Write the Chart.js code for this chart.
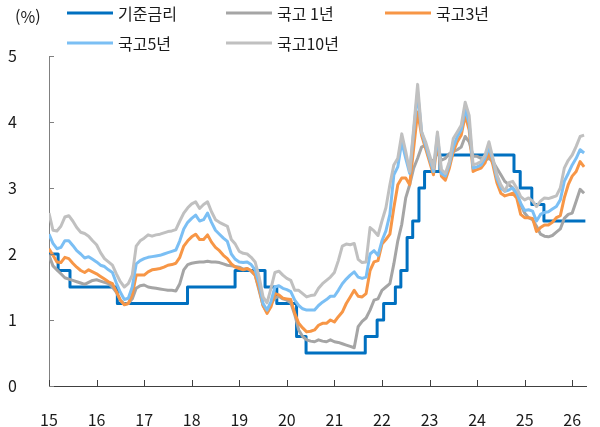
<!DOCTYPE html>
<html lang="ko">
<head>
<meta charset="utf-8">
<title>기준금리와 국고채 금리</title>
<script src="https://cdn.jsdelivr.net/npm/chart.js@4.4.1/dist/chart.umd.min.js"></script>
<style>
    html, body { margin: 0; padding: 0; background: #fff; }
    #wrap { position: relative; width: 600px; height: 427px; }
</style>
</head>
<body>
<div id="wrap"><canvas id="rateChart"></canvas></div>
<script>
// Base rate: decision dates and new level
const baseDates = ['2015-01-01', '2015-03-12', '2015-06-11', '2016-06-09', '2017-11-30', '2018-11-30',
    '2019-07-18', '2019-10-16', '2020-03-16', '2020-05-28', '2021-08-26', '2021-11-25',
    '2022-01-14', '2022-04-14', '2022-05-26', '2022-07-13', '2022-08-25', '2022-10-12',
    '2022-11-24', '2023-03-22', '2024-10-11', '2024-11-28', '2025-02-25', '2025-05-29', '2026-04-12'];
const baseRates = [2.00, 1.75, 1.50, 1.25, 1.50, 1.75,
    1.50, 1.25, 0.75, 0.50, 0.75, 1.00,
    1.25, 1.50, 1.75, 2.25, 2.50, 3.00,
    3.25, 3.50, 3.25, 3.00, 2.75, 2.50, 2.50];

// Treasury yields, monthly from Jan 2015
const firstMonth = '2015-01';
const ktb1y = [
    1.98, 1.82, 1.76, 1.70, 1.64, 1.62, 1.60, 1.58, 1.56, 1.54, 1.57, 1.60,
    1.61, 1.59, 1.57, 1.55, 1.50, 1.42, 1.30, 1.24, 1.25, 1.32, 1.48, 1.52,
    1.53, 1.50, 1.49, 1.48, 1.47, 1.46, 1.45, 1.45, 1.44, 1.55, 1.76, 1.84,
    1.86, 1.87, 1.88, 1.88, 1.89, 1.88, 1.88, 1.87, 1.85, 1.83, 1.82, 1.81,
    1.80, 1.77, 1.78, 1.74, 1.68, 1.45, 1.22, 1.12, 1.25, 1.33, 1.36, 1.32,
    1.30, 1.26, 1.08, 0.85, 0.75, 0.70, 0.68, 0.67, 0.70, 0.68, 0.67, 0.70,
    0.67, 0.66, 0.64, 0.62, 0.60, 0.58, 0.90, 0.98, 1.03, 1.15, 1.30, 1.32,
    1.45, 1.50, 1.55, 1.85, 2.20, 2.45, 2.85, 3.05, 3.30, 3.45, 3.62, 3.65,
    3.45, 3.40, 3.55, 3.42, 3.45, 3.52, 3.55, 3.58, 3.62, 3.78, 3.70, 3.48,
    3.48, 3.45, 3.42, 3.45, 3.40, 3.30, 3.20, 3.10, 3.05, 3.00, 2.90, 2.75,
    2.62, 2.55, 2.52, 2.42, 2.30, 2.27, 2.26, 2.28, 2.33, 2.38, 2.54, 2.60,
    2.62, 2.80, 2.98, 2.92
];
const ktb3y = [
    2.08, 1.98, 1.88, 1.87, 1.95, 1.93, 1.86, 1.80, 1.75, 1.72, 1.76, 1.73,
    1.70, 1.66, 1.62, 1.58, 1.55, 1.43, 1.30, 1.23, 1.25, 1.38, 1.68, 1.68,
    1.68, 1.73, 1.76, 1.77, 1.78, 1.80, 1.83, 1.84, 1.86, 1.95, 2.12, 2.20,
    2.26, 2.30, 2.22, 2.22, 2.29, 2.18, 2.10, 2.05, 1.98, 1.93, 1.85, 1.80,
    1.78, 1.76, 1.78, 1.75, 1.68, 1.48, 1.22, 1.10, 1.20, 1.40, 1.38, 1.33,
    1.32, 1.31, 1.10, 0.95, 0.88, 0.82, 0.83, 0.85, 0.92, 0.95, 0.95, 1.00,
    0.97, 1.05, 1.12, 1.25, 1.35, 1.45, 1.36, 1.35, 1.40, 1.75, 1.88, 1.90,
    2.15, 2.22, 2.30, 2.70, 3.05, 3.15, 3.15, 3.05, 3.60, 4.15, 3.80, 3.60,
    3.40, 3.20, 3.72, 3.18, 3.12, 3.30, 3.55, 3.70, 3.80, 4.10, 3.88, 3.25,
    3.28, 3.30, 3.38, 3.55, 3.35, 3.08, 2.92, 2.88, 2.90, 2.92, 2.85, 2.60,
    2.55, 2.55, 2.54, 2.34, 2.40, 2.44, 2.44, 2.48, 2.55, 2.58, 2.85, 3.05,
    3.18, 3.25, 3.40, 3.32
];
const ktb5y = [
    2.30, 2.16, 2.08, 2.10, 2.20, 2.20, 2.13, 2.05, 2.00, 1.94, 1.96, 1.92,
    1.88, 1.83, 1.81, 1.76, 1.72, 1.56, 1.42, 1.31, 1.33, 1.50, 1.85, 1.90,
    1.93, 1.95, 1.96, 1.97, 1.98, 2.00, 2.02, 2.04, 2.06, 2.20, 2.38, 2.48,
    2.54, 2.59, 2.50, 2.52, 2.62, 2.48, 2.36, 2.30, 2.24, 2.19, 2.00, 1.92,
    1.88, 1.87, 1.88, 1.84, 1.76, 1.56, 1.25, 1.15, 1.28, 1.50, 1.52, 1.48,
    1.46, 1.43, 1.30, 1.22, 1.17, 1.15, 1.15, 1.15, 1.22, 1.27, 1.31, 1.36,
    1.36, 1.45, 1.55, 1.62, 1.68, 1.73, 1.65, 1.63, 1.65, 2.00, 2.05, 1.98,
    2.20, 2.35, 2.60, 3.20, 3.32, 3.70, 3.45, 3.22, 3.85, 4.45, 3.85, 3.65,
    3.45, 3.25, 3.80, 3.22, 3.18, 3.36, 3.62, 3.78, 3.88, 4.20, 3.98, 3.30,
    3.32, 3.35, 3.45, 3.62, 3.42, 3.15, 3.00, 2.95, 2.97, 3.00, 2.92, 2.77,
    2.66, 2.67, 2.65, 2.50, 2.60, 2.63, 2.64, 2.68, 2.72, 2.82, 3.10, 3.22,
    3.35, 3.45, 3.58, 3.53
];
const ktb10y = [
    2.62, 2.36, 2.35, 2.42, 2.56, 2.58, 2.50, 2.40, 2.33, 2.31, 2.27, 2.20,
    2.14, 2.02, 1.93, 1.88, 1.83, 1.70, 1.58, 1.50, 1.55, 1.68, 2.12, 2.20,
    2.24, 2.29, 2.27, 2.29, 2.30, 2.32, 2.34, 2.35, 2.37, 2.50, 2.62, 2.70,
    2.76, 2.79, 2.69, 2.75, 2.79, 2.64, 2.52, 2.48, 2.45, 2.42, 2.22, 2.15,
    2.04, 2.01, 2.00, 1.95, 1.88, 1.66, 1.35, 1.26, 1.48, 1.72, 1.74, 1.68,
    1.63, 1.60, 1.45, 1.45, 1.40, 1.35, 1.37, 1.38, 1.48, 1.55, 1.60, 1.65,
    1.72, 1.90, 2.12, 2.15, 2.14, 2.16, 1.92, 1.87, 1.88, 2.40, 2.35, 2.28,
    2.50, 2.70, 3.05, 3.35, 3.45, 3.82, 3.55, 3.25, 3.90, 4.57, 3.85, 3.70,
    3.50, 3.30, 3.85, 3.28, 3.22, 3.40, 3.75, 3.85, 3.95, 4.30, 4.10, 3.35,
    3.37, 3.40, 3.50, 3.70, 3.45, 3.20, 3.05, 2.95, 3.08, 3.10, 3.00, 2.87,
    2.82, 2.85, 2.80, 2.72, 2.80, 2.85, 2.84, 2.86, 2.88, 3.00, 3.30, 3.42,
    3.50, 3.63, 3.78, 3.80
];

const seriesNames = ['기준금리', '국고 1년', '국고3년', '국고5년', '국고10년'];
const seriesColors = ['#0070C0', '#A5A5A5', '#F79646', '#7BBFF4', '#C0C0C0'];
const yTicks = [0, 1, 2, 3, 4, 5];

const FONT = '"Noto Sans CJK KR", "Noto Sans", sans-serif';

function toYear(s) {
    const d = new Date(s + 'T00:00:00Z');
    const y = d.getUTCFullYear();
    const a = Date.UTC(y, 0, 1), b = Date.UTC(y + 1, 0, 1);
    return y + (d.getTime() - a) / (b - a);
}

function monthly(values) {
    const [y0, m0] = firstMonth.split('-').map(Number);
    return values.map((v, i) => ({ x: y0 + (m0 - 1 + i) / 12, y: v }));
}

const basePoints = baseDates.map((d, i) => ({ x: toYear(d), y: baseRates[i] }));
const allSeries = [basePoints, monthly(ktb1y), monthly(ktb3y), monthly(ktb5y), monthly(ktb10y)];

// legend in a 3-column grid plus the unit label
const gridLegend = {
    id: 'gridLegend',
    afterDraw(chart) {
        const ctx = chart.ctx;
        ctx.save();
        ctx.font = '16px ' + FONT;
        ctx.textBaseline = 'middle';
        ctx.fillStyle = '#1a1a1a';
        ctx.fillText('(%)', 15, 17);
        chart.data.datasets.forEach((ds, i) => {
            const x = 67 + (i % 3) * 159;
            const y = 13 + Math.floor(i / 3) * 30;
            ctx.strokeStyle = ds.borderColor;
            ctx.lineWidth = 3;
            ctx.beginPath();
            ctx.moveTo(x, y);
            ctx.lineTo(x + 46, y);
            ctx.stroke();
            ctx.fillText(ds.label, x + 51, y + 1);
        });
        ctx.restore();
    }
};

// small tick marks pointing into the plot
const innerTicks = {
    id: 'innerTicks',
    afterDraw(chart) {
        const ctx = chart.ctx;
        const xs = chart.scales.x, ys = chart.scales.y;
        ctx.save();
        ctx.lineWidth = 1;
        ctx.strokeStyle = '#808080';
        ys.ticks.forEach(t => {
            const py = Math.round(ys.getPixelForValue(t.value)) + 0.5;
            ctx.beginPath();
            ctx.moveTo(xs.left, py);
            ctx.lineTo(xs.left + 5, py);
            ctx.stroke();
        });
        ctx.strokeStyle = '#404040';
        xs.ticks.forEach(t => {
            const px = Math.round(xs.getPixelForValue(t.value)) + 0.5;
            ctx.beginPath();
            ctx.moveTo(px, ys.bottom);
            ctx.lineTo(px, ys.bottom - 6);
            ctx.stroke();
        });
        ctx.restore();
    }
};

const rateChart = new Chart(document.getElementById('rateChart'), {
    type: 'line',
    data: {
        datasets: allSeries.map((pts, i) => ({
            label: seriesNames[i],
            data: pts,
            borderColor: seriesColors[i],
            backgroundColor: seriesColors[i],
            borderWidth: 3,
            pointRadius: 0,
            tension: 0,
            stepped: i === 0 ? 'before' : false,
            borderJoinStyle: 'round',
            order: 5 - i
        }))
    },
    options: {
        responsive: true,
        maintainAspectRatio: false,
        animation: false,
        layout: { padding: { top: 56, right: 14, left: 0, bottom: 0 } },
        plugins: {
            legend: { display: false },
            tooltip: { enabled: false }
        },
        scales: {
            x: {
                type: 'linear',
                min: 2015,
                max: 2026.29,
                grid: { display: false },
                border: { display: true, color: '#404040', width: 1 },
                ticks: {
                    stepSize: 1,
                    includeBounds: false,
                    maxRotation: 0,
                    padding: 16,
                    color: '#1a1a1a',
                    font: { family: FONT, size: 16 },
                    callback: v => Number.isInteger(v) ? String(v).slice(2) : ''
                },
                afterFit: s => { s.height = 41; }
            },
            y: {
                min: 0,
                max: 5,
                grid: { display: false },
                border: { display: true, color: '#808080', width: 1 },
                afterBuildTicks: s => { s.ticks = yTicks.map(v => ({ value: v })); },
                ticks: {
                    padding: 24,
                    color: '#1a1a1a',
                    font: { family: FONT, size: 16 }
                },
                afterFit: s => { s.width = 49; }
            }
        }
    },
    plugins: [gridLegend, innerTicks]
});
</script>
</body>
</html>
